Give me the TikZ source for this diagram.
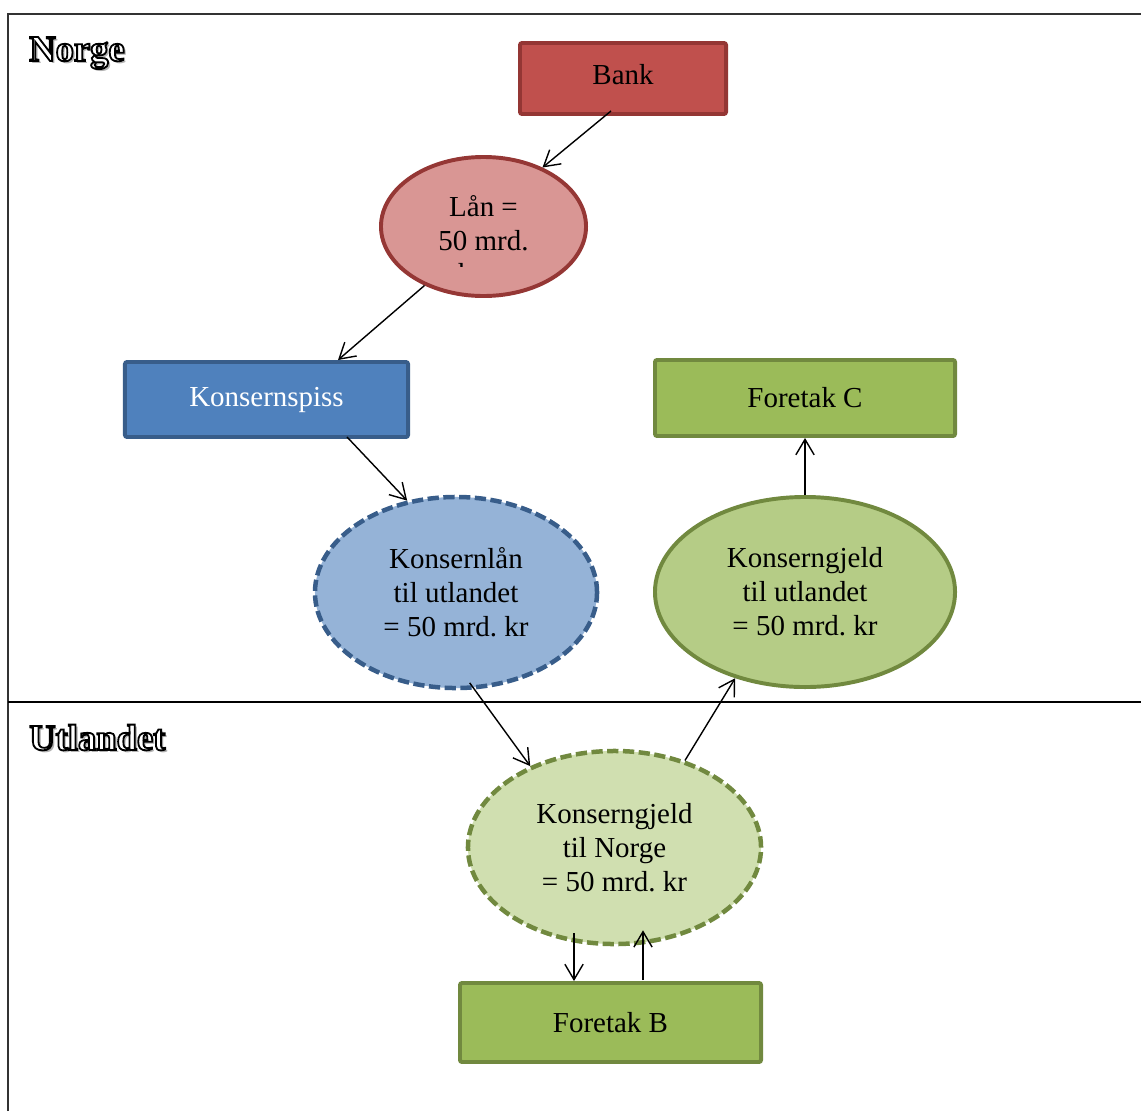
\documentclass[tikz,border=0pt]{standalone}
\usepackage{fontspec}
\setmainfont{Liberation Serif}
\usepackage{xcolor}
\usetikzlibrary{positioning,shapes.geometric,arrows.meta}
\definecolor{bankfill}{HTML}{C0504D}
\definecolor{bankline}{HTML}{943634}
\definecolor{laanfill}{HTML}{D99694}
\definecolor{laanline}{HTML}{953735}
\definecolor{spissfill}{HTML}{4F81BD}
\definecolor{blueline}{HTML}{385D8A}
\definecolor{klaanfill}{HTML}{95B3D7}
\definecolor{firmfill}{HTML}{9BBB59}
\definecolor{greenline}{HTML}{71893F}
\definecolor{utlfill}{HTML}{B5CC86}
\definecolor{norfill}{HTML}{D0DFB0}
\frenchspacing
% outlined white letters with a soft grey shadow
\newcommand{\landlabel}[1]{%
  \rlap{\hspace{1.6pt}\raisebox{-1.6pt}{\textcolor{black!30}{#1}}}%
  {\color{white}\special{pdf:literal direct 2 Tr 1.3 w 0 G}#1\special{pdf:literal direct 0 Tr}}}

\begin{document}
\begin{tikzpicture}[x=0.025cm, y=-0.025cm,
          arrowstyle/.style={-{Straight Barb[length=11pt, width=13pt]}, line width=1pt}]
          % Box and ellipse styles
          \tikzstyle{boxnode} = [draw, rectangle, rounded corners=1.5pt, line width=2.8pt, text centered,
                                 font=\fontsize{20.6}{24.2}\selectfont]
          \tikzstyle{ellnode} = [draw, ellipse, line width=2.8pt, inner sep=0pt, align=center,
                                 font=\fontsize{20.6}{24.2}\selectfont]
          \tikzstyle{dashnode} = [ellnode, line width=3.2pt, dash pattern=on 8pt off 3.2pt]
          \tikzstyle{landnode} = [anchor=base west, inner sep=0pt, font=\fontsize{26}{30}\selectfont\bfseries]

          \useasboundingbox (0,0) rectangle (1141,1111);

          % Frame: Norge above, Utlandet below
          \draw[line width=0.8pt, black!80] (8,1111) -- (8,14) -- (1141,14);
          \draw[line width=0.8pt] (8,702) -- (1141,702);
          \node (norge) [landnode] at (29,61) {\landlabel{Norge}};
          \node (utlandet) [landnode] at (29,750) {\landlabel{Utlandet}};

          % Place the nodes
          \node (bank)    [boxnode, fill=bankfill, draw=bankline, minimum width=5.15cm, minimum height=1.775cm] at (623,78.5) {\raisebox{6pt}{Bank}};
          \node (laan)    [ellnode, fill=laanfill, draw=laanline, minimum width=5.125cm, minimum height=3.475cm] at (483.5,226.5) {Lån =\\50 mrd.\\[-19pt]\mbox{}};
          \node (kspiss)  [boxnode, fill=spissfill, draw=blueline, text=white, minimum width=7.075cm, minimum height=1.875cm] at (266.5,399.5) {\raisebox{-2pt}{Konsernspiss}};
          \node (fc)      [boxnode, fill=firmfill, draw=greenline, minimum width=7.5cm, minimum height=1.9cm] at (805,398) {\raisebox{-1.4pt}{Foretak C}};
          \node (klaan)   [dashnode, fill=klaanfill, draw=blueline, minimum width=7.05cm, minimum height=4.775cm] at (456,592.5) {Konsernlån\\til utlandet\\= 50 mrd. kr};
          \node (kgutl)   [ellnode, fill=utlfill, draw=greenline, minimum width=7.5cm, minimum height=4.75cm] at (805,592) {Konserngjeld\\til utlandet\\= 50 mrd. kr};
          \node (kgnorge) [dashnode, fill=norfill, draw=greenline, minimum width=7.325cm, minimum height=4.825cm] at (614.5,847.5) {Konserngjeld\\til Norge\\= 50 mrd. kr};
          \node (fb)      [boxnode, fill=firmfill, draw=greenline, minimum width=7.525cm, minimum height=1.975cm] at (610.5,1022.5) {\raisebox{-1.4pt}{Foretak B}};

          % cut-off last line in the loan ellipse
          \begin{scope}
            \clip (400,256) rectangle (570,266);
            \node (laankr) [font=\fontsize{20.6}{24.2}\selectfont] at (470,273) {kr};
          \end{scope}

          % Draw arrows
          \draw[arrowstyle] ([shift={(-12,-5)}]bank.south) -- (laan.45);
          \draw[arrowstyle] (laan.225) -- ([shift={(71.5,0)}]kspiss.north);
          \draw[arrowstyle] ([shift={(80.5,-2)}]kspiss.south) -- (klaan.118);
          \draw[arrowstyle] ([shift={(0,-7)}]klaan.-82) -- (kgnorge.136);
          \draw[arrowstyle] (kgnorge.51) -- (kgutl.231);
          \draw[arrowstyle] (kgutl.north) -- (fc.south);
          \draw[arrowstyle] ([shift={(-40.5,-13)}]kgnorge.south) -- ([shift={(-36.5,0)}]fb.north);
          \draw[arrowstyle] ([shift={(32.5,-1)}]fb.north) -- ([shift={(28.5,-16)}]kgnorge.south);

          \end{tikzpicture}
\end{document}
